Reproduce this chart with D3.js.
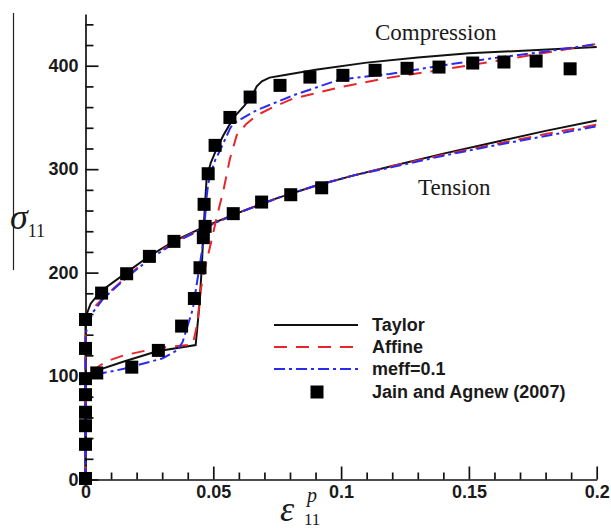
<!DOCTYPE html>
<html lang="en">
<head>
    <meta charset="UTF-8">
    <title>Stress-strain: Taylor / Affine / meff</title>
    <script src="https://d3js.org/d3.v7.min.js"></script>
    <style>
        body { margin: 0; background: #fff; }
        svg { display: block; }
        .tick text { font-family: "Liberation Sans", Arial, sans-serif; font-weight: bold; font-size: 18px; fill: #1a1a1a; }
        .axis path, .axis line { stroke: #111; stroke-width: 1.7px; }
        .serif { font-family: "Liberation Serif", "Times New Roman", serif; fill: #1a1a1a; }
        .legend text { font-family: "Liberation Sans", Arial, sans-serif; font-weight: bold; font-size: 18px; fill: #1a1a1a; }
    </style>
</head>
<body>
<div id="chart"></div>
<script>
    // Taylor (black solid)
    const taylorCompX = [0, 0, 0.002, 0.004, 0.015, 0.028, 0.0431, 0.0445, 0.0455, 0.046, 0.0474, 0.049, 0.051, 0.054, 0.058, 0.062, 0.065, 0.067, 0.069, 0.072, 0.078, 0.09, 0.11, 0.13, 0.15, 0.175, 0.2];
    const taylorCompY = [0, 95, 102, 105, 114, 124, 130, 167, 205, 234, 292, 306, 318, 333, 350, 361, 370, 380, 385, 388.5, 391, 396, 403, 408, 412, 415, 418];
    const taylorTensX = [0, 0, 0.0005, 0.002, 0.006, 0.016, 0.025, 0.035, 0.047, 0.06, 0.075, 0.09, 0.105, 0.12, 0.14, 0.16, 0.18, 0.2];
    const taylorTensY = [0, 150, 160, 170, 182, 200, 216, 231, 245, 258, 272, 284, 294, 303, 315, 326, 337, 347];

    // Affine (red dashed)
    const affineCompX = [0, 0, 0.002, 0.008, 0.015, 0.028, 0.04, 0.042, 0.0437, 0.0452, 0.0468, 0.049, 0.0515, 0.054, 0.0565, 0.0592, 0.063, 0.067, 0.0734, 0.081, 0.1, 0.119, 0.138, 0.158, 0.178, 0.2];
    const affineCompY = [0, 90, 104, 114, 120, 127, 130, 131, 150, 185, 205, 228, 255, 280, 310, 333, 344, 352, 360, 368, 379.5, 388.5, 395.6, 403.6, 411.7, 421];
    const affineTensX = [0, 0, 0.001, 0.004, 0.008, 0.016, 0.025, 0.035, 0.047, 0.06, 0.075, 0.09, 0.105, 0.12, 0.14, 0.16, 0.18, 0.2];
    const affineTensY = [0, 145, 155, 168, 178, 196, 214, 230, 244, 258, 272, 284, 294, 303, 314, 324, 334, 343];

    // meff=0.1 (blue dash-dot)
    const meffCompX = [0, 0, 0.003, 0.015, 0.03, 0.036, 0.038, 0.042, 0.045, 0.046, 0.0474, 0.048, 0.0494, 0.0507, 0.0526, 0.0565, 0.0578, 0.062, 0.067, 0.0813, 0.0995, 0.119, 0.1387, 0.158, 0.178, 0.2];
    const meffCompY = [0, 92, 101, 107, 117, 125, 133, 165, 212, 228, 273, 286, 299, 308.5, 318, 339, 344, 350, 357, 371.4, 386.7, 392, 400, 406.8, 413, 421];
    const meffTensX = [0, 0, 0.001, 0.003, 0.007, 0.016, 0.025, 0.035, 0.047, 0.06, 0.075, 0.09, 0.105, 0.12, 0.14, 0.16, 0.18, 0.2];
    const meffTensY = [0, 140, 150, 162, 175, 195, 213, 229, 244, 258, 272, 284, 294, 302, 313, 323, 332, 341.5];

    // Jain and Agnew (2007) experiment
    const expCompX = [0, 0, 0, 0, 0, 0, 0.0044, 0.0181, 0.0285, 0.0376, 0.0426, 0.0448, 0.0461, 0.0464, 0.048, 0.0507, 0.0565, 0.0644, 0.0761, 0.0878, 0.1007, 0.1133, 0.1258, 0.1383, 0.1515, 0.1637, 0.1763, 0.1896];
    const expCompY = [1, 34, 52, 65, 82, 97.5, 103, 108.6, 124.8, 148.3, 175, 204.7, 233.8, 266, 295.6, 323, 350, 369.7, 381, 389, 390.7, 395.6, 397.5, 398.7, 402.6, 403.6, 404.5, 397];
    const expTensX = [0, 0, 0.0063, 0.0161, 0.025, 0.0346, 0.0468, 0.0578, 0.0689, 0.0803, 0.0924];
    const expTensY = [126.7, 154.7, 180.2, 198.9, 215.7, 230.2, 244.7, 257, 268.2, 275.3, 282];

    const seriesNames = ['Taylor', 'Affine', 'meff=0.1', 'Jain and Agnew (2007)'];
    const seriesColors = ['#111111', '#e8262a', '#2b2bf0', '#000000'];
    const seriesDash = [null, '13,9', '11,4,3,4', null];

    const xMajor = [0, 0.05, 0.1, 0.15, 0.2];
    const yMajor = [0, 100, 200, 300, 400];

    const width = 611, height = 528;
    const svg = d3.select('#chart').append('svg')
        .attr('width', width)
        .attr('height', height);

    const x = d3.scaleLinear().domain([0, 0.2]).range([85.5, 596.7]);
    const y = d3.scaleLinear().domain([0, 450]).range([479.5, 14]);

    // stray frame line at the far left of the original figure
    svg.append('line')
        .attr('x1', 13.5).attr('x2', 13.5)
        .attr('y1', 13).attr('y2', 270)
        .attr('stroke', '#222').attr('stroke-width', 1.2);

    // x axis, ticks pointing inward
    const xMinor = d3.range(1, 20).map(d => d / 100).filter(d => d % 0.05 > 1e-9 && 0.05 - (d % 0.05) > 1e-9);
    svg.append('g').attr('class', 'axis')
        .attr('transform', `translate(0,${y(0)})`)
        .call(d3.axisBottom(x).tickValues(xMinor).tickSize(-7).tickSizeOuter(0).tickFormat(''))
        .select('.domain').remove();
    svg.append('g').attr('class', 'axis')
        .attr('transform', `translate(0,${y(0)})`)
        .call(d3.axisBottom(x).tickValues(xMajor).tickSize(-13).tickSizeOuter(0).tickPadding(5)
            .tickFormat(d => d === 0 ? '0' : d3.format('')(+d.toFixed(2))))
        .call(g => g.selectAll('.tick text').attr('dy', '0.75em'));

    // y axis
    const yMinor = d3.range(20, 450, 20).filter(d => d % 100 !== 0);
    svg.append('g').attr('class', 'axis')
        .attr('transform', `translate(${x(0)},0)`)
        .call(d3.axisLeft(y).tickValues(yMinor).tickSize(-8).tickSizeOuter(0).tickFormat(''))
        .select('.domain').remove();
    svg.append('g').attr('class', 'axis')
        .attr('transform', `translate(${x(0)},0)`)
        .call(d3.axisLeft(y).tickValues(yMajor).tickSize(-13).tickSizeOuter(0).tickPadding(7).tickFormat(d3.format('d')));

    const line = d3.line().x(d => x(d[0])).y(d => y(d[1]));
    const zip = (xs, ys) => xs.map((v, i) => [v, ys[i]]);

    const curves = [
        [taylorCompX, taylorCompY, 0], [taylorTensX, taylorTensY, 0],
        [affineCompX, affineCompY, 1], [affineTensX, affineTensY, 1],
        [meffCompX, meffCompY, 2], [meffTensX, meffTensY, 2]
    ];
    curves.forEach(([xs, ys, s]) => {
        svg.append('path')
            .datum(zip(xs, ys))
            .attr('d', line)
            .attr('fill', 'none')
            .attr('stroke', seriesColors[s])
            .attr('stroke-width', 2)
            .attr('stroke-dasharray', seriesDash[s]);
    });

    // experimental squares on top
    const sq = 13;
    const expPts = zip(expCompX, expCompY).concat(zip(expTensX, expTensY));
    svg.append('g').selectAll('rect')
        .data(expPts)
        .enter().append('rect')
        .attr('x', d => x(d[0]) - sq / 2)
        .attr('y', d => y(d[1]) - sq / 2)
        .attr('width', sq).attr('height', sq)
        .attr('fill', '#000');

    // legend
    const legend = svg.append('g').attr('class', 'legend');
    const rowY = [325, 347, 369, 392];
    seriesNames.forEach((name, i) => {
        if (i < 3) {
            legend.append('line')
                .attr('x1', 274).attr('x2', 358)
                .attr('y1', rowY[i]).attr('y2', rowY[i])
                .attr('stroke', seriesColors[i])
                .attr('stroke-width', 2)
                .attr('stroke-dasharray', seriesDash[i]);
        } else {
            legend.append('rect')
                .attr('x', 317 - sq / 2).attr('y', rowY[i] - sq / 2)
                .attr('width', sq).attr('height', sq)
                .attr('fill', '#000');
        }
        legend.append('text')
            .attr('x', 372).attr('y', rowY[i])
            .attr('dy', '0.36em')
            .text(name);
    });

    // annotations
    svg.append('text').attr('class', 'serif')
        .attr('x', 375).attr('y', 40)
        .style('font-size', '23px')
        .text('Compression');
    svg.append('text').attr('class', 'serif')
        .attr('x', 418).attr('y', 195)
        .style('font-size', '23px')
        .text('Tension');

    // y label: sigma_11
    const yl = svg.append('text').attr('class', 'serif').attr('x', 10).attr('y', 229);
    yl.append('tspan').style('font-size', '36px').style('font-style', 'italic').text('σ');
    yl.append('tspan').style('font-size', '18px').attr('dy', 8).text('11');

    // x label: epsilon^p_11
    svg.append('text').attr('class', 'serif')
        .attr('x', 280).attr('y', 521)
        .style('font-size', '36px').style('font-style', 'italic')
        .text('ε');
    svg.append('text').attr('class', 'serif')
        .attr('x', 307).attr('y', 502)
        .style('font-size', '20px').style('font-style', 'italic')
        .text('p');
    svg.append('text').attr('class', 'serif')
        .attr('x', 304).attr('y', 525)
        .style('font-size', '17px')
        .text('11');
</script>
</body>
</html>
